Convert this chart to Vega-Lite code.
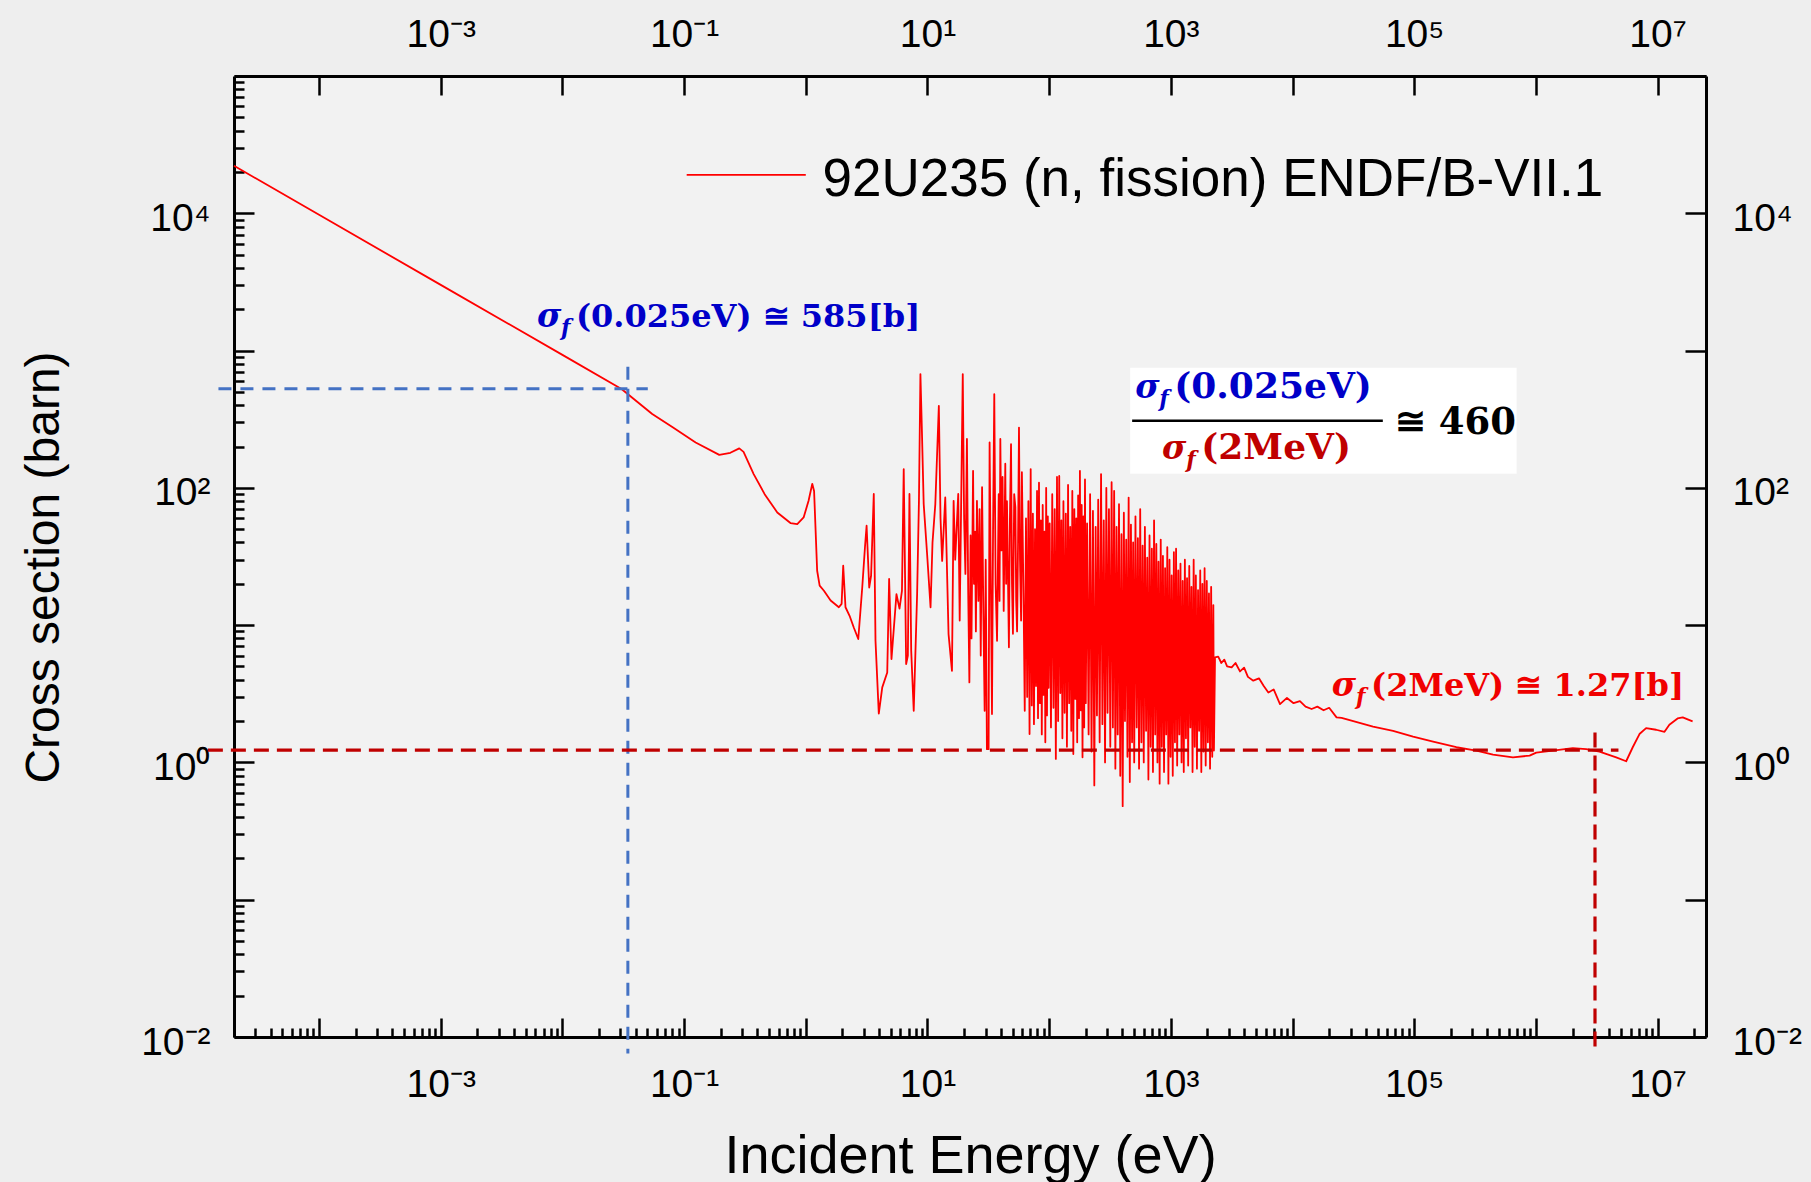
{
  "$schema": "https://vega.github.io/schema/vega-lite/v6.json",
  "width": 1472,
  "height": 961,
  "autosize": {"type": "none"},
  "padding": {"left": 234, "top": 76, "right": 105, "bottom": 145},
  "background": "#eeeeee",
  "config": {
    "view": {"stroke": null, "fill": "#f2f2f2"},
    "axis": {"grid": false, "domainColor": "#000000", "domainWidth": 3, "tickColor": "#000000", "tickWidth": 2.5, "labelColor": "#000000", "labelFont": "Liberation Sans", "labelFontSize": 39, "titleFont": "Liberation Sans", "titleFontWeight": "normal", "titleColor": "#000000", "labelOverlap": false, "labelFlush": false, "labelBound": false}
  },
  "datasets": {
    "curve": [
      {"E":2e-5,"sigma":22200},{"E":1e-4,"sigma":9750},{"E":0.001,"sigma":3010},{"E":0.01,"sigma":930},{"E":0.0306,"sigma":525},{"E":0.0547,"sigma":345},{"E":0.08,"sigma":277},{"E":0.1244,"sigma":214},{"E":0.1946,"sigma":174},{"E":0.24,"sigma":180},{"E":0.284,"sigma":194},{"E":0.308,"sigma":183},{"E":0.373,"sigma":126},{"E":0.459,"sigma":90},{"E":0.583,"sigma":66.2},{"E":0.748,"sigma":55.4},{"E":0.851,"sigma":54.5},{"E":0.96,"sigma":60.9},{"E":1.054,"sigma":80.5},{"E":1.13,"sigma":107},{"E":1.17,"sigma":95},{"E":1.24,"sigma":24.9},{"E":1.3,"sigma":19.4},{"E":1.41,"sigma":17.8},{"E":1.6,"sigma":15.1},{"E":1.87,"sigma":13.5},{"E":1.97,"sigma":14.3},{"E":2.03,"sigma":27.1},{"E":2.12,"sigma":13.5},{"E":2.29,"sigma":11.7},{"E":2.48,"sigma":9.62},{"E":2.7,"sigma":7.92},{"E":2.91,"sigma":18.8},{"E":3.07,"sigma":37.9},{"E":3.16,"sigma":53},{"E":3.32,"sigma":18.8},{"E":3.44,"sigma":22.9},{"E":3.62,"sigma":90.2},{"E":3.74,"sigma":7.7},{"E":3.98,"sigma":2.27},{"E":4.25,"sigma":3.52},{"E":4.67,"sigma":4.52},{"E":4.84,"sigma":21.7},{"E":5.06,"sigma":5.66},{"E":5.56,"sigma":16.8},{"E":5.89,"sigma":13.2},{"E":6.17,"sigma":17.8},{"E":6.38,"sigma":137},{"E":6.68,"sigma":5.21},{"E":6.9,"sigma":6},{"E":7.11,"sigma":90.2},{"E":7.35,"sigma":6.5},{"E":7.71,"sigma":2.38},{"E":8.22,"sigma":16.8},{"E":8.51,"sigma":80.5},{"E":8.75,"sigma":674},{"E":9,"sigma":261},{"E":9.31,"sigma":76.2},{"E":9.93,"sigma":33},{"E":10.6,"sigma":13.5},{"E":11,"sigma":40},{"E":11.6,"sigma":76.2},{"E":12.4,"sigma":396},{"E":12.8,"sigma":60},{"E":13.2,"sigma":29.4},{"E":14,"sigma":85.1},{"E":14.9,"sigma":8.61},{"E":15.9,"sigma":4.65},{"E":16.4,"sigma":80.5},{"E":16.9,"sigma":30},{"E":17.9,"sigma":90.2},{"E":18.4,"sigma":10.8},
      {"E":19.5,"sigma":674},{"E":20,"sigma":60},{"E":20.5,"sigma":23.6},{"E":21.1,"sigma":227},{"E":21.6,"sigma":18},{"E":22.1,"sigma":3.83},{"E":22.6,"sigma":45},{"E":23,"sigma":8},{"E":23.7,"sigma":133},{"E":24.1,"sigma":20},{"E":24.6,"sigma":48},{"E":25,"sigma":9},{"E":25.5,"sigma":80.5},{"E":26.2,"sigma":15},{"E":26.8,"sigma":70},{"E":27.4,"sigma":6},{"E":28.1,"sigma":101},{"E":28.8,"sigma":12},{"E":29.5,"sigma":2.38},{"E":30.1,"sigma":30},{"E":30.8,"sigma":1.25},{"E":31.8,"sigma":1.25},{"E":32.4,"sigma":214},{"E":33.1,"sigma":25},{"E":33.9,"sigma":2.25},{"E":34.6,"sigma":50},{"E":35.4,"sigma":482},{"E":36.3,"sigma":20},{"E":37.3,"sigma":7.7},{"E":38.5,"sigma":90},{"E":39.1,"sigma":15},{"E":39.7,"sigma":227},{"E":40.5,"sigma":35},{"E":41.4,"sigma":120},{"E":42.3,"sigma":12.7},{"E":43.6,"sigma":150},{"E":44.3,"sigma":20},{"E":45,"sigma":80},{"E":46.7,"sigma":6.9},{"E":47.6,"sigma":60},{"E":48.6,"sigma":208},{"E":49.5,"sigma":20},{"E":50.4,"sigma":8.65},{"E":51.6,"sigma":90},{"E":52.8,"sigma":72},{"E":53.6,"sigma":15},{"E":54.5,"sigma":9},{"E":55.5,"sigma":40},{"E":56.5,"sigma":275},{"E":57.6,"sigma":30},{"E":58.8,"sigma":10.8},{"E":59.7,"sigma":130},{"E":60.6,"sigma":46},{"E":61.8,"sigma":12},
      {"E":63,"sigma":2.38},{"E":64.5,"sigma":60},{"E":66,"sigma":3},{"E":67.5,"sigma":80},{"E":69,"sigma":1.61},{"E":70.5,"sigma":137},{"E":72,"sigma":2.6},{"E":73.5,"sigma":65},{"E":75,"sigma":1.9},{"E":76.5,"sigma":50},{"E":78,"sigma":3.6},{"E":79.5,"sigma":95},{"E":81,"sigma":2.1},{"E":82.5,"sigma":109},{"E":84,"sigma":2.7},{"E":85.5,"sigma":58},{"E":87,"sigma":1.6},{"E":88.5,"sigma":75},{"E":90,"sigma":3.1},{"E":91.5,"sigma":48},{"E":93,"sigma":1.4},{"E":94.5,"sigma":100},{"E":96,"sigma":2.2},{"E":97.5,"sigma":62},{"E":99,"sigma":3.5},
      {"E":101,"sigma":55},{"E":103.5,"sigma":1.8},{"E":106,"sigma":90},{"E":108.5,"sigma":2.5},{"E":111,"sigma":70},{"E":113.5,"sigma":1.06},{"E":116,"sigma":120},{"E":118.5,"sigma":2},{"E":121,"sigma":122},{"E":123.5,"sigma":3.2},{"E":126,"sigma":58},{"E":128.5,"sigma":1.5},{"E":131,"sigma":80},{"E":134,"sigma":2.3},{"E":137,"sigma":65},{"E":140,"sigma":1.3},{"E":143,"sigma":105},{"E":146,"sigma":2.7},{"E":149,"sigma":52},{"E":152,"sigma":1.7},{"E":155,"sigma":95},{"E":158,"sigma":1.15},{"E":161,"sigma":70},{"E":164,"sigma":2.9},{"E":167,"sigma":60},{"E":170,"sigma":1.4},{"E":173,"sigma":88},{"E":176,"sigma":2.1},{"E":179,"sigma":133},{"E":182,"sigma":2.4},{"E":185,"sigma":75},{"E":188,"sigma":1.09},{"E":191,"sigma":62},{"E":194,"sigma":1.8},{"E":197,"sigma":115},{"E":200,"sigma":2.7},
      {"E":205,"sigma":55},{"E":211,"sigma":1.6},{"E":217,"sigma":90},{"E":223,"sigma":1.2},{"E":229,"sigma":68},{"E":235,"sigma":0.68},{"E":241,"sigma":52},{"E":247,"sigma":2.2},{"E":253,"sigma":82},{"E":260,"sigma":1.4},{"E":267,"sigma":126},{"E":274,"sigma":1.9},{"E":281,"sigma":58},{"E":288,"sigma":1},{"E":295,"sigma":100},{"E":302,"sigma":2.3},{"E":310,"sigma":70},{"E":318,"sigma":1.3},{"E":326,"sigma":110},{"E":334,"sigma":1.8},{"E":342,"sigma":95},{"E":350,"sigma":0.9},{"E":358,"sigma":52},{"E":366,"sigma":1.6},{"E":375,"sigma":76},{"E":384,"sigma":0.8},{"E":393,"sigma":46},{"E":402,"sigma":0.48},{"E":411,"sigma":66},{"E":420,"sigma":2},{"E":430,"sigma":42},{"E":440,"sigma":1.1},{"E":450,"sigma":85},{"E":460,"sigma":0.72},{"E":470,"sigma":54},{"E":480,"sigma":1.4},{"E":490,"sigma":40},{"E":500,"sigma":1},
      {"E":512,"sigma":62},{"E":524,"sigma":1.8},{"E":536,"sigma":43},{"E":548,"sigma":0.9},{"E":560,"sigma":70},{"E":573,"sigma":1.4},{"E":586,"sigma":38},{"E":599,"sigma":1},{"E":612,"sigma":52},{"E":626,"sigma":1.7},{"E":640,"sigma":31},{"E":654,"sigma":0.75},{"E":668,"sigma":45},{"E":683,"sigma":1.3},{"E":698,"sigma":36},{"E":713,"sigma":0.85},{"E":728,"sigma":58},{"E":744,"sigma":1.6},{"E":760,"sigma":39},{"E":776,"sigma":1},{"E":792,"sigma":29},{"E":809,"sigma":0.7},{"E":826,"sigma":42},{"E":843,"sigma":1.3},{"E":861,"sigma":32},{"E":879,"sigma":0.85},{"E":897,"sigma":26},{"E":916,"sigma":1.6},{"E":935,"sigma":37},{"E":955,"sigma":0.7},{"E":975,"sigma":30},{"E":995,"sigma":1.1},
      {"E":1016,"sigma":23},{"E":1037,"sigma":0.8},{"E":1059,"sigma":34},{"E":1081,"sigma":1.4},{"E":1104,"sigma":36},{"E":1127,"sigma":0.95},{"E":1151,"sigma":25},{"E":1175,"sigma":1.6},{"E":1200,"sigma":28},{"E":1225,"sigma":1},{"E":1251,"sigma":21},{"E":1277,"sigma":0.85},{"E":1304,"sigma":30},{"E":1331,"sigma":1.5},{"E":1359,"sigma":22},{"E":1388,"sigma":0.95},{"E":1417,"sigma":27},{"E":1447,"sigma":1.8},{"E":1477,"sigma":19},{"E":1508,"sigma":0.85},{"E":1540,"sigma":30},{"E":1572,"sigma":1.3},{"E":1605,"sigma":23},{"E":1639,"sigma":0.9},{"E":1673,"sigma":18},{"E":1708,"sigma":1.7},{"E":1744,"sigma":25},{"E":1780,"sigma":0.85},{"E":1817,"sigma":20},{"E":1855,"sigma":1.2},{"E":1894,"sigma":26},{"E":1934,"sigma":0.95},{"E":1974,"sigma":21},{"E":2015,"sigma":1.4},{"E":2057,"sigma":17},{"E":2100,"sigma":0.9},{"E":2144,"sigma":19},{"E":2189,"sigma":1.1},{"E":2235,"sigma":14},{"E":2260,"sigma":1.22},
      {"E":2307,"sigma":5.82},{"E":2450,"sigma":5.9},{"E":2600,"sigma":5.3},{"E":2750,"sigma":5.6},{"E":2900,"sigma":5},{"E":3160,"sigma":4.92},{"E":3400,"sigma":5.3},{"E":3700,"sigma":4.6},{"E":4000,"sigma":4.9},{"E":4300,"sigma":4.2},{"E":4760,"sigma":3.94},{"E":5300,"sigma":4.1},{"E":5800,"sigma":3.6},{"E":6330,"sigma":3.23},{"E":7000,"sigma":3.4},{"E":7890,"sigma":2.66},{"E":9000,"sigma":2.95},{"E":10200,"sigma":2.7},{"E":11500,"sigma":2.8},{"E":12800,"sigma":2.55},{"E":14350,"sigma":2.45},{"E":16000,"sigma":2.55},{"E":18000,"sigma":2.4},{"E":20000,"sigma":2.5},{"E":23000,"sigma":2.13},{"E":25300,"sigma":2.11},{"E":45900,"sigma":1.82},{"E":67000,"sigma":1.7},{"E":97900,"sigma":1.54},{"E":143000,"sigma":1.42},{"E":222000,"sigma":1.29},{"E":324000,"sigma":1.22},{"E":444000,"sigma":1.14},{"E":648000,"sigma":1.09},{"E":888000,"sigma":1.12},{"E":1007000,"sigma":1.18},{"E":1380000,"sigma":1.22},{"E":2010000,"sigma":1.27},{"E":2590000,"sigma":1.25},{"E":3330000,"sigma":1.2},{"E":4570000,"sigma":1.09},{"E":5520000,"sigma":1.02},{"E":6250000,"sigma":1.29},{"E":7100000,"sigma":1.61},{"E":8050000,"sigma":1.78},{"E":9730000,"sigma":1.73},{"E":11400000,"sigma":1.67},{"E":12500000,"sigma":1.88},{"E":14600000,"sigma":2.09},{"E":16100000,"sigma":2.13},{"E":19400000,"sigma":1.99}
    ],
    "guides": [
      {"E1":1.49e-5,"E2":0.0503,"s1":527,"s2":527,"g":"blue"},
      {"E1":0.0345,"E2":0.0345,"s1":762,"s2":0.00757,"g":"blue"},
      {"E1":1.22e-5,"E2":4770000,"s1":1.23,"s2":1.23,"g":"red"},
      {"E1":3060000,"E2":3060000,"s1":1.65,"s2":0.00822,"g":"red"}
    ],
    "notes": [
      {"E":0.006176,"sigma":1491,"t":"σ","ann":"thermal","part":"sym"},
      {"E":0.009721,"sigma":1304,"t":"f","ann":"thermal","part":"sub"},
      {"E":0.0129,"sigma":1491,"t":"(0.025eV) ≅ 585[b]","ann":"thermal","part":"main"},
      {"E":508.9,"sigma":453.2,"t":"σ","ann":"num","part":"sym"},
      {"E":803.1,"sigma":396.3,"t":"f","ann":"num","part":"sub"},
      {"E":1066,"sigma":453.2,"t":"(0.025eV)","ann":"num","part":"big"},
      {"E":847.6,"sigma":162.9,"t":"σ","ann":"den","part":"sym"},
      {"E":1341,"sigma":142.4,"t":"f","ann":"den","part":"sub"},
      {"E":1779,"sigma":162.9,"t":"(2MeV)","ann":"den","part":"big"},
      {"E":69240,"sigma":247.8,"t":"≅ 460","ann":"ratio","part":"ratio"},
      {"E":21050,"sigma":3.061,"t":"σ","ann":"fast","part":"sym"},
      {"E":33310,"sigma":2.676,"t":"f","ann":"fast","part":"sub"},
      {"E":44230,"sigma":3.061,"t":"(2MeV) ≅ 1.27[b]","ann":"fast","part":"main"}
    ]
  },
  "layer": [
    {
      "data": {"name": "curve"},
      "mark": {"type": "line", "color": "#ff0000", "strokeWidth": 1.8, "strokeJoin": "round"},
      "encoding": {
        "x": {"field": "E", "type": "quantitative", "scale": {"type": "log", "domain": [2e-5, 25000000], "nice": false},
          "axis": {"orient": "bottom", "title": "Incident Energy (eV)", "titleFontSize": 54, "titleX": 736, "titleY": 135, "titleBaseline": "alphabetic",
            "values": [2e-5,3e-5,4e-5,5e-5,6e-5,7e-5,8e-5,9e-5,0.0001,0.0002,0.0003,0.0004,0.0005,0.0006,0.0007,0.0008,0.0009,0.001,0.002,0.003,0.004,0.005,0.006,0.007,0.008,0.009,0.01,0.02,0.03,0.04,0.05,0.06,0.07,0.08,0.09,0.1,0.2,0.3,0.4,0.5,0.6,0.7,0.8,0.9,1,2,3,4,5,6,7,8,9,10,20,30,40,50,60,70,80,90,100,200,300,400,500,600,700,800,900,1000,2000,3000,4000,5000,6000,7000,8000,9000,10000,20000,30000,40000,50000,60000,70000,80000,90000,100000,200000,300000,400000,500000,600000,700000,800000,900000,1000000,2000000,3000000,4000000,5000000,6000000,7000000,8000000,9000000,10000000,20000000],
            "tickSize": {"condition": {"test": "indexof([0.0001,0.001,0.01,0.1,1,10,100,1000,10000,100000,1000000,10000000], datum.value) >= 0", "value": -19}, "value": -9},
            "labelPadding": 47, "labelAlign": "center", "labelBaseline": "top",
            "labelExpr": "datum.value == 0.001 ? '10⁻³' : datum.value == 0.1 ? '10⁻¹' : datum.value == 10 ? '10¹' : datum.value == 1000 ? '10³' : datum.value == 100000 ? '10⁵' : datum.value == 10000000 ? '10⁷' : ''"}},
        "y": {"field": "sigma", "type": "quantitative", "scale": {"type": "log", "domain": [0.01, 100000], "nice": false},
          "axis": {"orient": "left", "title": "Cross section (barn)", "titleFontSize": 48, "titleX": -176, "titleY": 491, "titleBaseline": "alphabetic", "titleAngle": 270,
            "values": [0.01,0.02,0.03,0.04,0.05,0.06,0.07,0.08,0.09,0.1,0.2,0.3,0.4,0.5,0.6,0.7,0.8,0.9,1,2,3,4,5,6,7,8,9,10,20,30,40,50,60,70,80,90,100,200,300,400,500,600,700,800,900,1000,2000,3000,4000,5000,6000,7000,8000,9000,10000,20000,30000,40000,50000,60000,70000,80000,90000,100000],
            "tickSize": {"condition": {"test": "indexof([0.01,0.1,1,10,100,1000,10000,100000], datum.value) >= 0", "value": -20}, "value": -10},
            "labelPadding": 44, "labelAlign": "right", "labelBaseline": "middle", "labelOffset": 5,
            "labelExpr": "datum.value == 0.01 ? '10⁻²' : datum.value == 1 ? '10⁰' : datum.value == 100 ? '10²' : datum.value == 10000 ? '10⁴' : ''"}}
      }
    },
    {
      "data": {"name": "guides"},
      "transform": [{"filter": "datum.g == 'blue'"}],
      "mark": {"type": "rule", "color": "#4472c4", "strokeWidth": 3, "strokeDash": [13, 9]},
      "encoding": {
        "x": {"field": "E1", "type": "quantitative", "scale": {"type": "log", "domain": [2e-5, 25000000], "nice": false}, "axis": null},
        "x2": {"field": "E2"},
        "y": {"field": "s1", "type": "quantitative", "scale": {"type": "log", "domain": [0.01, 100000], "nice": false}, "axis": null},
        "y2": {"field": "s2"}
      }
    },
    {
      "data": {"name": "guides"},
      "transform": [{"filter": "datum.g == 'red'"}],
      "mark": {"type": "rule", "color": "#c00000", "strokeWidth": 3.2, "strokeDash": [15, 8]},
      "encoding": {
        "x": {"field": "E1", "type": "quantitative", "scale": {"type": "log", "domain": [2e-5, 25000000], "nice": false}, "axis": null},
        "x2": {"field": "E2"},
        "y": {"field": "s1", "type": "quantitative", "scale": {"type": "log", "domain": [0.01, 100000], "nice": false}, "axis": null},
        "y2": {"field": "s2"}
      }
    },
    {
      "data": {"values": [{"E1": 463.1, "E2": 694500, "s1": 126.7, "s2": 749.5}]},
      "mark": {"type": "rect", "fill": "#ffffff", "opacity": 0.95},
      "encoding": {
        "x": {"field": "E1", "type": "quantitative", "scale": {"type": "log", "domain": [2e-5, 25000000], "nice": false}, "axis": null},
        "x2": {"field": "E2"},
        "y": {"field": "s1", "type": "quantitative", "scale": {"type": "log", "domain": [0.01, 100000], "nice": false}, "axis": null},
        "y2": {"field": "s2"}
      }
    },
    {
      "data": {"values": [{"E1": 480.8, "E2": 55210, "s": 308.1}]},
      "mark": {"type": "rule", "color": "#000000", "strokeWidth": 2.5},
      "encoding": {
        "x": {"field": "E1", "type": "quantitative", "scale": {"type": "log", "domain": [2e-5, 25000000], "nice": false}, "axis": null},
        "x2": {"field": "E2"},
        "y": {"field": "s", "type": "quantitative", "scale": {"type": "log", "domain": [0.01, 100000], "nice": false}, "axis": null}
      }
    },
    {
      "data": {"name": "notes"},
      "transform": [{"filter": "datum.part == 'sym'"}],
      "mark": {"type": "text", "align": "left", "baseline": "alphabetic", "font": "DejaVu Serif", "fontWeight": "bold", "fontStyle": "italic", "fontSize": 33},
      "encoding": {
        "x": {"field": "E", "type": "quantitative", "scale": {"type": "log", "domain": [2e-5, 25000000], "nice": false}, "axis": null},
        "y": {"field": "sigma", "type": "quantitative", "scale": {"type": "log", "domain": [0.01, 100000], "nice": false}, "axis": null},
        "text": {"field": "t"},
        "color": {"field": "ann", "type": "nominal", "scale": {"domain": ["thermal", "num", "den", "ratio", "fast"], "range": ["#0000c8", "#0000c8", "#c00000", "#000000", "#f00000"]}, "legend": null}
      }
    },
    {
      "data": {"name": "notes"},
      "transform": [{"filter": "datum.part == 'sub'"}],
      "mark": {"type": "text", "align": "left", "baseline": "alphabetic", "font": "DejaVu Serif", "fontWeight": "bold", "fontStyle": "italic", "fontSize": 22},
      "encoding": {
        "x": {"field": "E", "type": "quantitative", "scale": {"type": "log", "domain": [2e-5, 25000000], "nice": false}, "axis": null},
        "y": {"field": "sigma", "type": "quantitative", "scale": {"type": "log", "domain": [0.01, 100000], "nice": false}, "axis": null},
        "text": {"field": "t"},
        "color": {"field": "ann", "type": "nominal", "legend": null}
      }
    },
    {
      "data": {"name": "notes"},
      "transform": [{"filter": "datum.part == 'main'"}],
      "mark": {"type": "text", "align": "left", "baseline": "alphabetic", "font": "DejaVu Serif", "fontWeight": "bold", "fontSize": 32},
      "encoding": {
        "x": {"field": "E", "type": "quantitative", "scale": {"type": "log", "domain": [2e-5, 25000000], "nice": false}, "axis": null},
        "y": {"field": "sigma", "type": "quantitative", "scale": {"type": "log", "domain": [0.01, 100000], "nice": false}, "axis": null},
        "text": {"field": "t"},
        "color": {"field": "ann", "type": "nominal", "legend": null}
      }
    },
    {
      "data": {"name": "notes"},
      "transform": [{"filter": "datum.part == 'big'"}],
      "mark": {"type": "text", "align": "left", "baseline": "alphabetic", "font": "DejaVu Serif", "fontWeight": "bold", "fontSize": 36},
      "encoding": {
        "x": {"field": "E", "type": "quantitative", "scale": {"type": "log", "domain": [2e-5, 25000000], "nice": false}, "axis": null},
        "y": {"field": "sigma", "type": "quantitative", "scale": {"type": "log", "domain": [0.01, 100000], "nice": false}, "axis": null},
        "text": {"field": "t"},
        "color": {"field": "ann", "type": "nominal", "legend": null}
      }
    },
    {
      "data": {"name": "notes"},
      "transform": [{"filter": "datum.part == 'ratio'"}],
      "mark": {"type": "text", "align": "left", "baseline": "alphabetic", "font": "DejaVu Serif", "fontWeight": "bold", "fontSize": 37},
      "encoding": {
        "x": {"field": "E", "type": "quantitative", "scale": {"type": "log", "domain": [2e-5, 25000000], "nice": false}, "axis": null},
        "y": {"field": "sigma", "type": "quantitative", "scale": {"type": "log", "domain": [0.01, 100000], "nice": false}, "axis": null},
        "text": {"field": "t"},
        "color": {"field": "ann", "type": "nominal", "legend": null}
      }
    },
    {
      "data": {"values": [{"E": 1.374, "sigma": 13410, "t": "92U235 (n, fission) ENDF/B-VII.1"}]},
      "mark": {"type": "text", "align": "left", "baseline": "alphabetic", "font": "Liberation Sans", "fontSize": 53, "color": "#000000"},
      "encoding": {
        "x": {"field": "E", "type": "quantitative", "scale": {"type": "log", "domain": [2e-5, 25000000], "nice": false}, "axis": null},
        "y": {"field": "sigma", "type": "quantitative", "scale": {"type": "log", "domain": [0.01, 100000], "nice": false}, "axis": null},
        "text": {"field": "t"}
      }
    },
    {
      "data": {"values": [{"E1": 0.105, "E2": 1.0, "s": 19060}]},
      "mark": {"type": "rule", "color": "#ff0000", "strokeWidth": 1.8},
      "encoding": {
        "x": {"field": "E1", "type": "quantitative", "scale": {"type": "log", "domain": [2e-5, 25000000], "nice": false},
          "axis": {"orient": "top", "title": null, "values": [0.0001,0.001,0.01,0.1,1,10,100,1000,10000,100000,1000000,10000000],
            "tickSize": -19, "labelPadding": 41, "labelAlign": "center", "labelBaseline": "bottom",
            "labelExpr": "datum.value == 0.001 ? '10⁻³' : datum.value == 0.1 ? '10⁻¹' : datum.value == 10 ? '10¹' : datum.value == 1000 ? '10³' : datum.value == 100000 ? '10⁵' : datum.value == 10000000 ? '10⁷' : ''"}},
        "x2": {"field": "E2"},
        "y": {"field": "s", "type": "quantitative", "scale": {"type": "log", "domain": [0.01, 100000], "nice": false},
          "axis": {"orient": "right", "title": null, "values": [0.01,0.1,1,10,100,1000,10000,100000],
            "tickSize": -21, "labelPadding": 47, "labelAlign": "left", "labelBaseline": "middle", "labelOffset": 5,
            "labelExpr": "datum.value == 0.01 ? '10⁻²' : datum.value == 1 ? '10⁰' : datum.value == 100 ? '10²' : datum.value == 10000 ? '10⁴' : ''"}}
      }
    }
  ],
  "resolve": {"axis": {"x": "independent", "y": "independent"}}
}
